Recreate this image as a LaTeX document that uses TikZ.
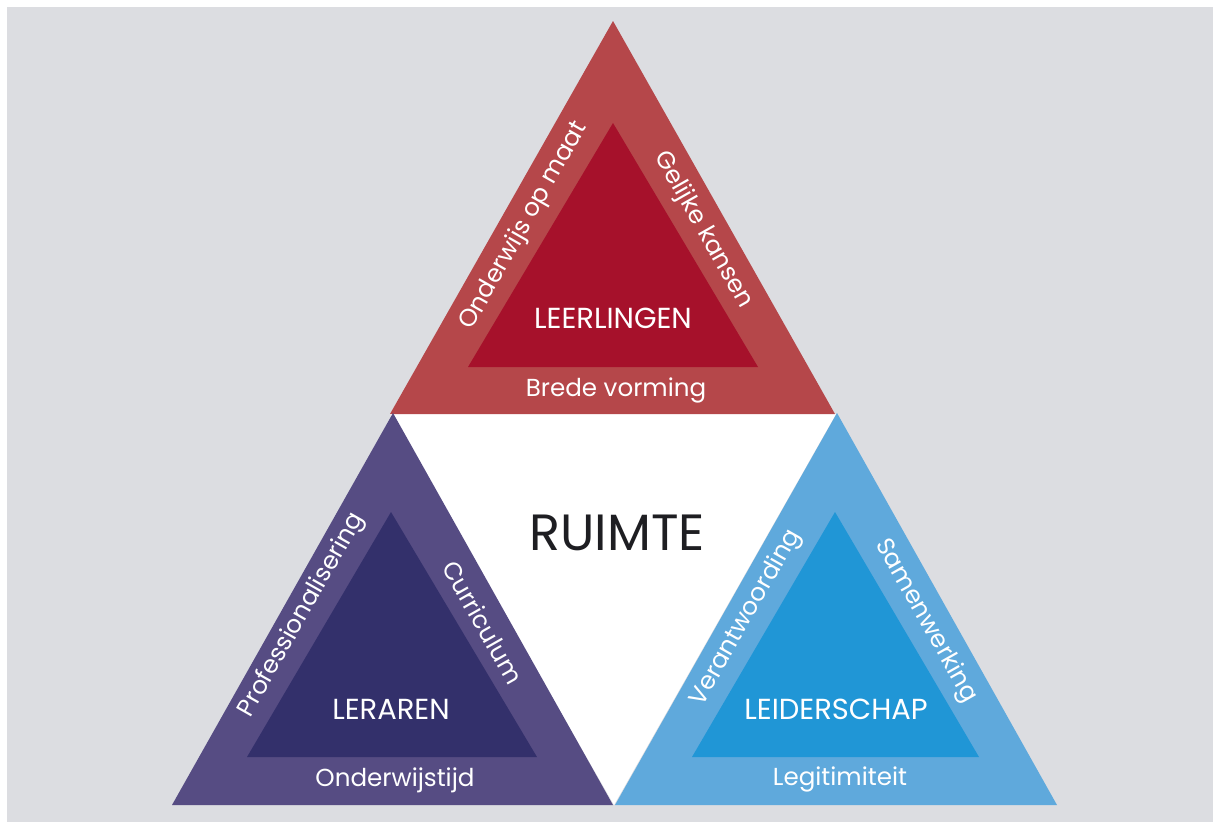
\documentclass[tikz,border=0pt]{standalone}
\usepackage{fontspec}
\setmainfont{Poppins}
\usepackage{xcolor}
\usetikzlibrary{positioning,calc}

\definecolor{bggray}{HTML}{DCDDE1}
\definecolor{redout}{HTML}{B5474A}
\definecolor{redin}{HTML}{A6112B}
\definecolor{purpout}{HTML}{564C83}
\definecolor{purpin}{HTML}{33306B}
\definecolor{blueout}{HTML}{5FA9DC}
\definecolor{bluein}{HTML}{2096D6}
\definecolor{inkdark}{HTML}{1E1E22}

\begin{document}
\begin{tikzpicture}[
    x=0.02cm, y=-0.02cm,
    title/.style={text=white, font=\fontsize{16.5}{18}\selectfont, inner sep=0pt},
    side/.style={text=white, font=\fontsize{14}{16}\selectfont, inner sep=0pt},
    centre/.style={text=inkdark, font=\fontsize{29}{32}\selectfont, inner sep=0pt}
]
    % canvas
    \fill[white] (0,0) rectangle (1213,822);
    \fill[bggray] (7,7) rectangle (1213,822);
    \useasboundingbox (0,0) rectangle (1213,822);

    % white middle
    \fill[white] (390,414) -- (836,414) -- (614,805) -- cycle;

    % top triangle
    \fill[redout] (613,21) -- (835,414) -- (390,414) -- cycle;
    \fill[redin] (613,123) -- (758,367) -- (468,367) -- cycle;

    % left triangle
    \fill[purpout] (393,413) -- (613,805) -- (172,805) -- cycle;
    \fill[purpin] (391,512) -- (537,757) -- (247,757) -- cycle;

    % right triangle
    \fill[blueout] (837,413) -- (1057,805) -- (615,805) -- cycle;
    \fill[bluein] (835,512) -- (979,757) -- (692,757) -- cycle;

    % labels
    \node[centre] (ruimte) at (617,533) {RUIMTE};

    \node[title] (leerlingen) at (613,318) {LEERLINGEN};
    \node[side, rotate=60.4] (opmaat) at (524,226) {Onderwijs op maat};
    \node[side, rotate=-60.4] (kansen) at (703,230) {Gelijke kansen};
    \node[side] (vorming) at (616,390) {Brede vorming};

    \node[title] (leraren) at (391,709) {LERAREN};
    \node[side, rotate=60.4] (prof) at (302,615) {Professionalisering};
    \node[side, rotate=-60.4] (curr) at (483,622) {Curriculum};
    \node[side] (tijd) at (395,780) {Onderwijstijd};

    \node[title] (leiderschap) at (836,709) {LEIDERSCHAP};
    \node[side, rotate=60.4] (verant) at (746,618) {Verantwoording};
    \node[side, rotate=-60.4] (samen) at (926,621) {Samenwerking};
    \node[side] (legit) at (840,779) {Legitimiteit};

\end{tikzpicture}
\end{document}
